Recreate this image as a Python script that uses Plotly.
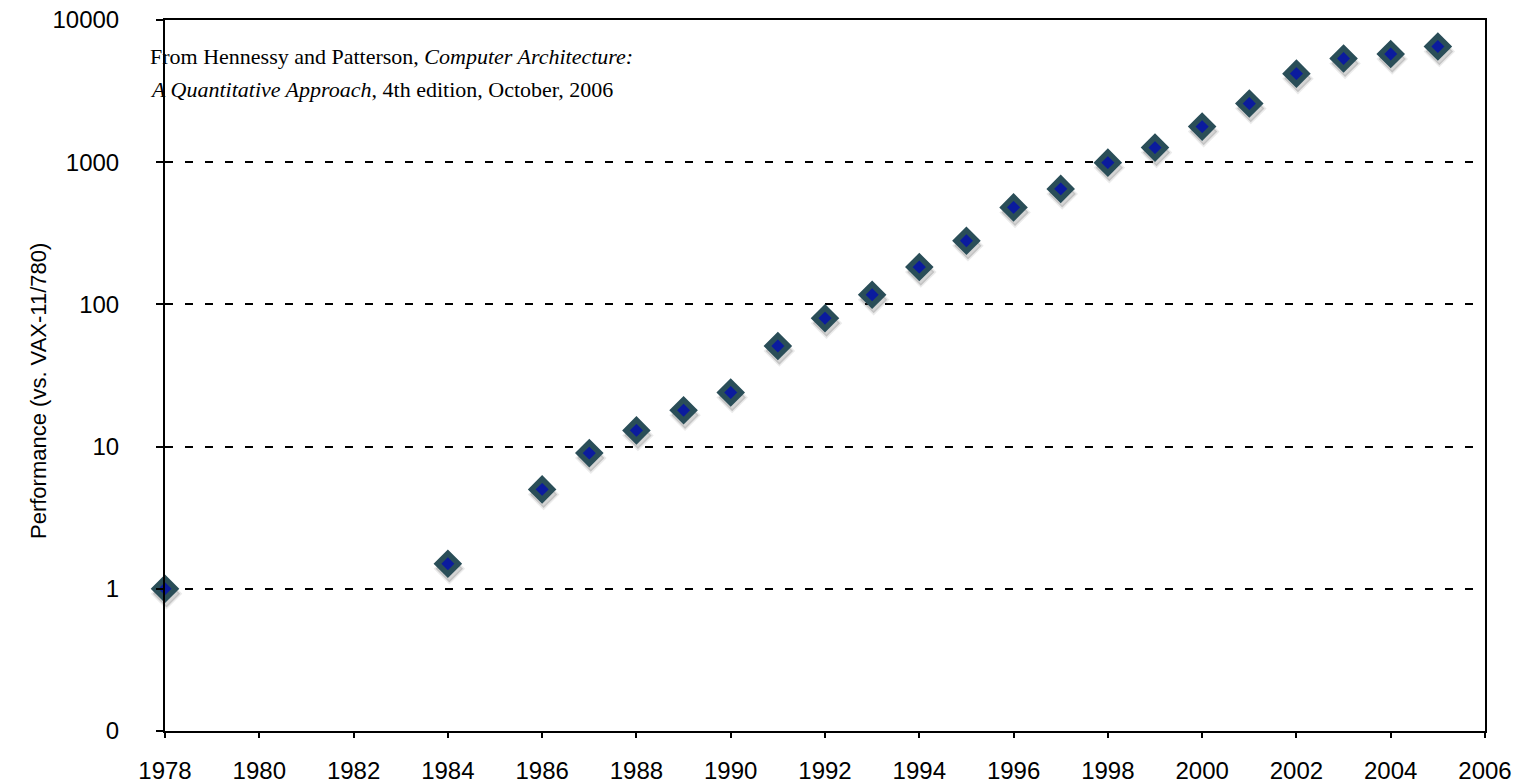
import plotly.graph_objects as go

years = [1978, 1984, 1986, 1987, 1988, 1989, 1990, 1991, 1992, 1993, 1994,
         1995, 1996, 1997, 1998, 1999, 2000, 2001, 2002, 2003, 2004, 2005]
performance = [1, 1.5, 5, 9, 13, 18, 24, 51, 80, 117, 183,
               280, 481, 649, 993, 1267, 1779, 2584, 4195, 5364, 5764, 6505]

x_ticks = list(range(1978, 2007, 2))
y_tick_vals = [0.1, 1, 10, 100, 1000, 10000]
y_tick_text = ["0", "1", "10", "100", "1000", "10000"]

y_title = "Performance (vs. VAX-11/780)"
note_line1 = "From Hennessy and Patterson, <i>Computer Architecture:</i>"
note_line2 = "<i>A Quantitative Approach</i>, 4th edition, October, 2006"

L, R, T, B = 165, 35, 20, 52
W, H = 1520, 783
plot_w = W - L - R
plot_h = H - T - B
x_range = [1978, 2006]
y_range = [-1, 4]


def px_x(px):
    return (px - L) / plot_w


def px_y(py):
    return (H - B - py) / plot_h


# shadow offset (pixels) implemented through a shifted overlay axis
dx_px, dy_px = 1.5, 5
xspan = x_range[1] - x_range[0]
yspan = y_range[1] - y_range[0]
x2_range = [x_range[0] - dx_px * xspan / plot_w, x_range[1] - dx_px * xspan / plot_w]
y2_range = [y_range[0] + dy_px * yspan / plot_h, y_range[1] + dy_px * yspan / plot_h]

fig = go.Figure()

# invisible carrier trace so the main (visible) axes are drawn
fig.add_trace(go.Scatter(
    x=years, y=performance, mode="markers", xaxis="x", yaxis="y",
    marker=dict(opacity=0), hoverinfo="skip", showlegend=False))

fig.add_trace(go.Scatter(
    x=years, y=performance, mode="markers", xaxis="x2", yaxis="y2",
    marker=dict(symbol="diamond", size=21, color="rgba(60,60,60,0.22)",
                line=dict(width=3, color="rgba(60,60,60,0.10)")),
    hoverinfo="skip", showlegend=False, cliponaxis=False))

fig.add_trace(go.Scatter(
    x=years, y=performance, mode="markers", xaxis="x3", yaxis="y3",
    marker=dict(symbol="diamond", size=16, color="#0b1b9e",
                line=dict(width=5.5, color="#2a4e58")),
    showlegend=False, cliponaxis=False))

axis_font = dict(family="Liberation Sans, Arial, sans-serif", size=24, color="black")
serif = dict(family="Liberation Serif, Times New Roman, serif", size=22, color="black")

fig.update_layout(
    width=W, height=H,
    margin=dict(l=L, r=R, t=T, b=B, autoexpand=False),
    paper_bgcolor="white", plot_bgcolor="white",
    xaxis=dict(range=x_range, tickvals=x_ticks, ticks="outside", ticklen=5,
               tickwidth=2, tickcolor="black", showline=True, linecolor="black",
               linewidth=2, mirror=True, showgrid=False, zeroline=False,
               tickfont=axis_font, ticklabelstandoff=12, automargin=False),
    yaxis=dict(type="log", range=y_range, tickvals=y_tick_vals, ticktext=y_tick_text,
               ticks="outside", ticklen=7, tickwidth=2, tickcolor="black",
               showline=True, linecolor="black", linewidth=2, mirror=True,
               showgrid=True, gridcolor="black", gridwidth=2, griddash="8px,12px",
               zeroline=False, tickfont=axis_font, ticklabelstandoff=32,
               automargin=False),
    xaxis2=dict(range=x2_range, overlaying="x", visible=False),
    yaxis2=dict(type="log", range=y2_range, overlaying="y", visible=False),
    xaxis3=dict(range=x_range, overlaying="x", visible=False),
    yaxis3=dict(type="log", range=y_range, overlaying="y", visible=False),
    annotations=[
        dict(xref="paper", yref="paper", x=px_x(148), y=px_y(56),
             xanchor="left", yanchor="middle", showarrow=False,
             text=note_line1, font=serif),
        dict(xref="paper", yref="paper", x=px_x(148), y=px_y(90),
             xanchor="left", yanchor="middle", showarrow=False,
             text=note_line2, font=serif),
        dict(xref="paper", yref="paper", x=px_x(38), y=px_y(391),
             xanchor="center", yanchor="middle", showarrow=False, textangle=-90,
             text=y_title,
             font=dict(family="Liberation Sans, Arial, sans-serif", size=22, color="black")),
    ],
)

fig.write_html("out.html", config={"displayModeBar": False},
               post_script="document.body.style.margin='0px';")
